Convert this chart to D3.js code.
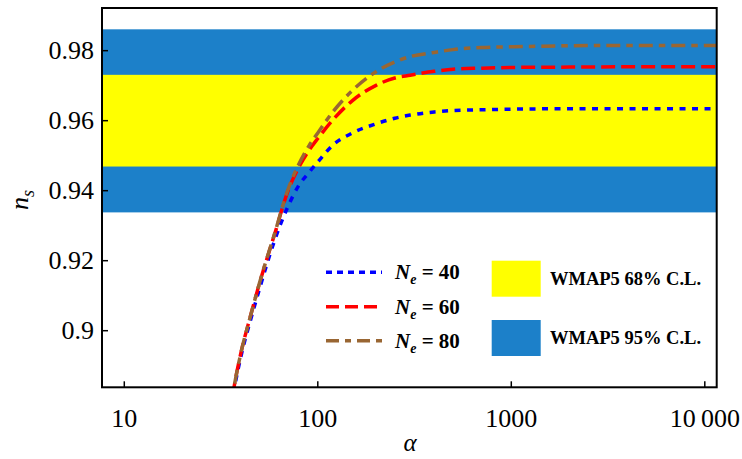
<!DOCTYPE html>
<html>
<head>
<meta charset="utf-8">
<script src="https://cdn.jsdelivr.net/npm/d3@7"></script>
<style>
  body { margin: 0; background: #fff; }
  text { font-family: "Liberation Serif", "DejaVu Serif", serif; }
</style>
</head>
<body>
<div id="chart"></div>
<script>
const alphaValues = [35, 37, 40, 45, 50, 60, 70, 80, 90, 100, 120, 150, 200, 250, 300, 400, 500, 700, 1000, 2000, 5000, 11500];
const ns40 = [0.8750, 0.8833, 0.8925, 0.9032, 0.9120, 0.9260, 0.9354, 0.9416, 0.9452, 0.9482, 0.9531, 0.9564, 0.9591, 0.9607, 0.9616, 0.9625, 0.9629, 0.9631, 0.9633, 0.9634, 0.9634, 0.9634];
const ns60 = [0.8757, 0.8842, 0.8935, 0.9044, 0.9136, 0.9278, 0.9398, 0.9468, 0.9515, 0.9549, 0.9603, 0.9656, 0.9701, 0.9722, 0.9730, 0.9741, 0.9747, 0.9750, 0.9752, 0.9753, 0.9754, 0.9754];
const ns80 = [0.8757, 0.8842, 0.8935, 0.9044, 0.9137, 0.9280, 0.9402, 0.9477, 0.9528, 0.9565, 0.9626, 0.9685, 0.9740, 0.9768, 0.9783, 0.9795, 0.9803, 0.9809, 0.9811, 0.9814, 0.9815, 0.9815];
const seriesNames = ["40", "60", "80"];
const band68 = [0.9469, 0.9731];
const band95 = [0.9338, 0.9861];
const xTicks = [10, 100, 1000, 10000];
const xTickLabels = ["10", "100", "1000", "10\u2009000"];
const yTicks = [0.9, 0.92, 0.94, 0.96, 0.98];
const yTickLabels = ["0.9", "0.92", "0.94", "0.96", "0.98"];

function drawChart() {
    const width = 742, height = 459;
    const left = 102, right = 716.7, top = 8, bottom = 387.3;
    const svg = d3.select("#chart").append("svg").attr("width", width).attr("height", height);

    const x = d3.scaleLog().domain([Math.pow(10, 0.8848), Math.pow(10, 4.0615)]).range([left, right]);
    const y = d3.scaleLinear().domain([0.88383, 0.99219]).range([bottom, top]);

    svg.append("clipPath").attr("id", "plot-clip").append("rect")
        .attr("x", left).attr("y", top).attr("width", right - left).attr("height", bottom - top);
    const plot = svg.append("g").attr("clip-path", "url(#plot-clip)");

    // confidence bands
    plot.append("rect").attr("x", left).attr("width", right - left)
        .attr("y", y(band95[1])).attr("height", y(band95[0]) - y(band95[1])).attr("fill", "#1c80c9");
    plot.append("rect").attr("x", left).attr("width", right - left)
        .attr("y", y(band68[1])).attr("height", y(band68[0]) - y(band68[1])).attr("fill", "#ffff00");

    const styles = [
        { color: "#0000ff", dash: "6,6.5" },
        { color: "#ff0000", dash: "14,6" },
        { color: "#996633", dash: "14,6,6.5,6" }
    ];
    const series = [ns40, ns60, ns80];
    const line = d3.line().x((d, i) => x(alphaValues[i])).y(d => y(d)).curve(d3.curveMonotoneX);

    plot.selectAll("path.curve").data(series).join("path").attr("class", "curve")
        .attr("d", line).attr("fill", "none")
        .attr("stroke", (d, i) => styles[i].color)
        .attr("stroke-width", 3.5)
        .attr("stroke-dasharray", (d, i) => styles[i].dash);

    // frame
    svg.append("rect").attr("x", left).attr("y", top).attr("width", right - left).attr("height", bottom - top)
        .attr("fill", "none").attr("stroke", "#000").attr("stroke-width", 2);

    // ticks
    svg.append("g").selectAll("line").data(xTicks).join("line")
        .attr("x1", d => x(d)).attr("x2", d => x(d)).attr("y1", bottom).attr("y2", bottom - 6)
        .attr("stroke", "#000").attr("stroke-width", 1.5);
    svg.append("g").selectAll("text").data(xTicks).join("text")
        .attr("x", d => x(d)).attr("y", bottom + 40).attr("text-anchor", "middle")
        .attr("font-size", 26).text((d, i) => xTickLabels[i]);

    svg.append("g").selectAll("line").data(yTicks).join("line")
        .attr("x1", left).attr("x2", left + 6).attr("y1", d => y(d)).attr("y2", d => y(d))
        .attr("stroke", "#000").attr("stroke-width", 1.5);
    svg.append("g").selectAll("text").data(yTicks).join("text")
        .attr("x", 94).attr("y", d => y(d) + 8).attr("text-anchor", "end")
        .attr("font-size", 26).text((d, i) => yTickLabels[i]);

    // axis titles
    svg.append("text").attr("x", 410).attr("y", 451).attr("text-anchor", "middle")
        .attr("font-size", 25).attr("font-style", "italic").text("\u03b1");
    const ylab = svg.append("text").attr("transform", "translate(28,200) rotate(-90)")
        .attr("text-anchor", "middle").attr("font-size", 26).attr("font-style", "italic");
    ylab.append("tspan").text("n");
    ylab.append("tspan").attr("font-size", 18).attr("dy", 6).text("s");

    // legend: curves
    const legendRows = [272.3, 306.7, 340.7];
    const lg = svg.append("g");
    lg.selectAll("line").data(seriesNames).join("line")
        .attr("x1", 326).attr("x2", 382).attr("y1", (d, i) => legendRows[i]).attr("y2", (d, i) => legendRows[i])
        .attr("stroke", (d, i) => styles[i].color).attr("stroke-width", 3.5)
        .attr("stroke-dasharray", (d, i) => i === 0 ? "6,5" : i === 1 ? "13,6" : "13,6,6,6");
    const lt = lg.selectAll("text").data(seriesNames).join("text")
        .attr("x", 395).attr("y", (d, i) => legendRows[i] + 7)
        .attr("font-size", 21).attr("font-weight", "bold");
    lt.append("tspan").attr("font-style", "italic").text("N");
    lt.append("tspan").attr("font-style", "italic").attr("font-size", 14).attr("dy", 5).text("e");
    lt.append("tspan").attr("dy", -5).text(d => " = " + d);

    // legend: bands
    const bandLegend = [
        { fill: "#ffff00", label: "WMAP5 68% C.L.", y: 260.7 },
        { fill: "#1c80c9", label: "WMAP5 95% C.L.", y: 320 }
    ];
    const bg = svg.append("g");
    bg.selectAll("rect").data(bandLegend).join("rect")
        .attr("x", 491.7).attr("y", d => d.y).attr("width", 49).attr("height", 36).attr("fill", d => d.fill);
    bg.selectAll("text").data(bandLegend).join("text")
        .attr("x", 550).attr("y", d => d.y + 24).attr("font-size", 18.5).attr("font-weight", "bold")
        .text(d => d.label);
}

document.addEventListener("DOMContentLoaded", () => {
    drawChart();
});
</script>
</body>
</html>
